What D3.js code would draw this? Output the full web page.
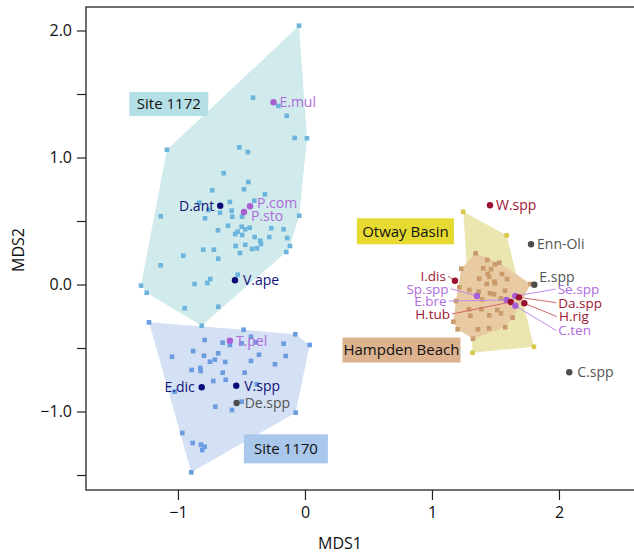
<!DOCTYPE html>
<html>
<head>
<meta charset="utf-8">
<script src="https://cdn.jsdelivr.net/npm/d3@7"></script>
<style>
  body { margin: 0; background: #fff; }
  svg { display: block; font-family: "Open Sans", sans-serif; }
</style>
</head>
<body>
<svg id="chart" width="634" height="555"></svg>
<script>
// site scores, [MDS1, MDS2]
const site1172 = [
  [-0.047, 2.038], [-0.409, 1.471], [-0.210, 1.406], [-0.144, 1.329], [-0.081, 1.154],
  [0.016, 1.151], [-1.087, 1.061], [-0.517, 1.080], [-0.449, 1.043], [-0.640, 0.876],
  [-0.446, 0.807], [-0.730, 0.742], [-0.480, 0.750], [-0.315, 0.710], [-0.832, 0.644],
  [-0.591, 0.650], [-0.399, 0.660], [-0.761, 0.587], [-0.669, 0.565], [-0.577, 0.581],
  [-0.496, 0.534], [-0.787, 0.521], [-1.136, 0.537], [-0.045, 0.542], [-0.572, 0.534],
  [-0.685, 0.427], [-0.606, 0.463], [-0.498, 0.455], [-0.470, 0.435], [-0.435, 0.447],
  [-0.530, 0.416], [-0.549, 0.398], [-0.494, 0.390], [-0.396, 0.374], [-0.265, 0.443],
  [-0.168, 0.435], [-0.281, 0.374], [-0.139, 0.366], [-0.352, 0.345], [-0.346, 0.319],
  [-0.118, 0.303], [-0.147, 0.256], [-0.546, 0.303], [-0.470, 0.313], [-0.417, 0.280],
  [-0.378, 0.285], [-0.512, 0.248], [-0.801, 0.274], [-0.717, 0.274], [-0.683, 0.203],
  [-0.958, 0.227], [-1.136, 0.151], [-0.530, 0.077], [-0.746, 0.043], [-0.769, 0.012],
  [-0.869, 0.004], [-1.291, -0.009], [-1.246, -0.065], [-0.947, -0.187], [-0.683, -0.175],
  [-0.813, -0.324]
];
const site1170 = [
  [-1.228, -0.298], [-0.483, -0.356], [-0.076, -0.392], [0.037, -0.476], [-0.790, -0.437],
  [-0.648, -0.458], [-0.591, -0.476], [-0.425, -0.411], [-0.388, -0.455], [-0.498, -0.463],
  [-0.168, -0.466], [-0.880, -0.524], [-0.795, -0.561], [-0.683, -0.542], [-0.709, -0.592],
  [-0.748, -0.608], [-0.628, -0.610], [-0.362, -0.553], [-0.152, -0.563], [-1.047, -0.569],
  [-0.425, -0.602], [-0.236, -0.628], [-0.892, -0.673], [-0.824, -0.657], [-0.821, -0.681],
  [-0.648, -0.694], [-0.475, -0.694], [-0.722, -0.760], [-0.624, -0.750], [-1.026, -0.844],
  [-0.380, -0.786], [-0.498, -0.923], [-0.706, -0.962], [-0.575, -0.988], [-0.073, -1.009],
  [-0.966, -1.169], [-0.884, -1.248], [-0.819, -1.261], [-0.790, -1.277], [-0.809, -1.303],
  [-0.895, -1.479]
];
const otwayBasin = [
  [1.246, 0.573], [1.588, 0.387], [1.803, -0.490], [1.320, -0.537]
];
const hampdenBeach = [
  [1.344, 0.246], [1.435, 0.193], [1.496, 0.159], [1.530, 0.172], [1.404, 0.128],
  [1.465, 0.120], [1.439, 0.083], [1.451, 0.061], [1.372, 0.046], [1.551, 0.083],
  [1.231, 0.124], [1.491, 0.022], [1.591, 0.043], [1.777, 0.004], [1.215, -0.022],
  [1.294, -0.043], [1.368, -0.057], [1.431, 0.004], [1.496, 0.009], [1.575, -0.049],
  [1.457, -0.069], [1.488, -0.077], [1.543, -0.109], [1.189, -0.130], [1.394, -0.117],
  [1.291, -0.195], [1.388, -0.195], [1.451, -0.243], [1.514, -0.201], [1.543, -0.227],
  [1.302, -0.246], [1.168, -0.293], [1.202, -0.353], [1.362, -0.353], [1.449, -0.345],
  [1.577, -0.337], [1.635, -0.261], [1.323, -0.427]
];

// species scores
const speciesNames = ["E.mul", "D.ant", "P.com", "P.sto", "V.ape", "T.pel", "E.dic", "V.spp", "De.spp",
  "W.spp", "Enn-Oli", "E.spp", "C.spp", "I.dis", "Sp.spp", "E.bre", "H.tub", "Se.spp", "Da.spp", "H.rig", "C.ten"];
const speciesX = [-0.248, -0.667, -0.433, -0.480, -0.551, -0.591, -0.813, -0.541, -0.538,
  1.457, 1.780, 1.806, 2.081, 1.181, 1.354, 1.588, 1.620, 1.656, 1.685, 1.727, 1.656];
const speciesY = [1.435, 0.620, 0.616, 0.571, 0.033, -0.443, -0.809, -0.797, -0.933,
  0.624, 0.317, -0.002, -0.691, 0.030, -0.091, -0.122, -0.138, -0.091, -0.101, -0.148, -0.167];
const speciesType = ["p", "n", "p", "p", "n", "p", "n", "n", "g",
  "r", "g", "g", "g", "r", "p", "p", "r", "p", "r", "r", "p"];

const xTicks = [-1, 0, 1, 2];
const yTicks = [-1.5, -1, -0.5, 0, 0.5, 1, 1.5, 2];

// region names and where their tags sit (data units)
const regionNames = ["Site 1172", "Site 1170", "Otway Basin", "Hampden Beach"];
const regionTagAt = [[-1.072, 1.421], [-0.150, -1.294], [0.791, 0.419], [0.760, -0.516]];

// ---- styles / layout ----
const regionStyle = [
  { hull: "#d1eaeb", pt: "#6cb4dc", tag: "#b3dfe5", w: 79, h: 24 },
  { hull: "#d4e1f4", pt: "#6b9be0", tag: "#a9c6eb", w: 84, h: 29 },
  { hull: "#ebe6b0", pt: "#d8c84c", tag: "#e6da30", w: 97, h: 26 },
  { hull: "#e8caa3", pt: "#c99a6a", tag: "#dcb38e", w: 118, h: 25 }
];
const dotColor = { p: "#a95fd4", n: "#0b0b7a", r: "#9a1030", g: "#4d4d4d" };
const textColor = { p: "#ae6bdc", n: "#10107a", r: "#a01535", g: "#555555" };
const leaderColor = { p: "#c08ce8", r: "#d46a6a" };

// label placement: plain offsets, or a far anchor (data units) with a leader line
const labelPos = {
  "D.ant": { side: "left", dx: -6 },
  "E.dic": { side: "left", dx: -7 },
  "P.com": { dx: 7, dy: -3 },
  "P.sto": { dx: 7, dy: 4 },
  "V.ape": { dx: 8 },
  "V.spp": { dx: 8 },
  "De.spp": { dx: 8 },
  "C.spp": { dx: 8 },
  "E.spp": { dx: 5, dy: -8 },
  "I.dis": { side: "left", at: [1.110, 0.066] },
  "Sp.spp": { side: "left", at: [1.131, -0.033] },
  "E.bre": { side: "left", at: [1.116, -0.130] },
  "H.tub": { side: "left", at: [1.142, -0.232] },
  "Se.spp": { at: [1.990, -0.036] },
  "Da.spp": { at: [1.994, -0.143] },
  "H.rig": { at: [2.000, -0.253] },
  "C.ten": { at: [1.994, -0.362] }
};

const svg = d3.select("#chart");
const x = d3.scaleLinear().domain([-1.724, 2.638]).range([86, 640]);
const y = d3.scaleLinear().domain([-1.618, 2.185]).range([490, 7]);

// frame
svg.append("rect")
  .attr("x", x.range()[0]).attr("y", y.range()[1])
  .attr("width", x.range()[1] - x.range()[0])
  .attr("height", y.range()[0] - y.range()[1])
  .attr("fill", "none").attr("stroke", "#222").attr("stroke-width", 1.3);

// axes
const xAxis = svg.append("g")
  .attr("transform", `translate(0,${y.range()[0]})`)
  .call(d3.axisBottom(x).tickValues(xTicks).tickSize(10).tickPadding(7).tickFormat(d3.format("d")));
const yAxis = svg.append("g")
  .attr("transform", `translate(${x.range()[0]},0)`)
  .call(d3.axisLeft(y).tickValues(yTicks).tickSize(9).tickPadding(5)
    .tickFormat(d => Number.isInteger(d) ? d3.format(".1f")(d) : ""));
[xAxis, yAxis].forEach(a => {
  a.select(".domain").remove();
  a.selectAll("line").attr("stroke", "#222").attr("stroke-width", 1.2);
  a.selectAll("text").attr("font-size", 16).attr("fill", "#111").attr("font-family", "Open Sans");
});

svg.append("text").attr("x", 340).attr("y", 549)
  .attr("text-anchor", "middle").attr("font-size", 16).attr("fill", "#111").text("MDS1");
svg.append("text").attr("transform", "translate(24,250) rotate(-90)")
  .attr("text-anchor", "middle").attr("font-size", 16).attr("fill", "#111").text("MDS2");

// hulls then points
const regions = [site1172, site1170, otwayBasin, hampdenBeach];
const plot = svg.append("g");
regions.forEach((pts, i) => {
  const hull = d3.polygonHull(pts.map(p => [x(p[0]), y(p[1])]));
  plot.append("path")
    .attr("d", "M" + hull.join("L") + "Z")
    .attr("fill", regionStyle[i].hull);
});
regions.forEach((pts, i) => {
  plot.append("g").selectAll("rect")
    .data(pts)
    .join("rect")
    .attr("x", d => x(d[0]) - 2.3)
    .attr("y", d => y(d[1]) - 2.3)
    .attr("width", 4.6).attr("height", 4.6)
    .attr("fill", regionStyle[i].pt);
});

// region tags
regionNames.forEach((name, i) => {
  const cx = x(regionTagAt[i][0]), cy = y(regionTagAt[i][1]);
  const s = regionStyle[i];
  svg.append("rect")
    .attr("x", cx - s.w / 2).attr("y", cy - s.h / 2)
    .attr("width", s.w).attr("height", s.h)
    .attr("fill", s.tag);
  svg.append("text")
    .attr("x", cx).attr("y", cy).attr("dy", "0.36em")
    .attr("text-anchor", "middle").attr("font-size", 15).attr("fill", "#111")
    .text(name);
});

// species
const species = speciesNames.map((n, i) => ({ name: n, sx: speciesX[i], sy: speciesY[i], t: speciesType[i] }));
const sp = svg.append("g");

species.forEach(d => {
  const lp = labelPos[d.name] || {};
  if (lp.at) {
    const lx = x(lp.at[0]) + (lp.side === "left" ? 2 : -2);
    sp.append("line")
      .attr("x1", lx).attr("y1", y(lp.at[1]))
      .attr("x2", x(d.sx)).attr("y2", y(d.sy))
      .attr("stroke", leaderColor[d.t]).attr("stroke-width", 1);
  }
});

sp.selectAll("circle")
  .data(species)
  .join("circle")
  .attr("cx", d => x(d.sx))
  .attr("cy", d => y(d.sy))
  .attr("r", 3.2)
  .attr("fill", d => dotColor[d.t]);

sp.selectAll("text")
  .data(species)
  .join("text")
  .attr("x", d => {
    const lp = labelPos[d.name] || {};
    return lp.at ? x(lp.at[0]) : x(d.sx) + (lp.dx !== undefined ? lp.dx : 6);
  })
  .attr("y", d => {
    const lp = labelPos[d.name] || {};
    return lp.at ? y(lp.at[1]) : y(d.sy) + (lp.dy || 0);
  })
  .attr("dy", "0.36em")
  .attr("text-anchor", d => (labelPos[d.name] || {}).side === "left" ? "end" : "start")
  .attr("font-size", d => (labelPos[d.name] || {}).at ? 13.5 : 14)
  .attr("fill", d => textColor[d.t])
  .text(d => d.name);
</script>
</body>
</html>
